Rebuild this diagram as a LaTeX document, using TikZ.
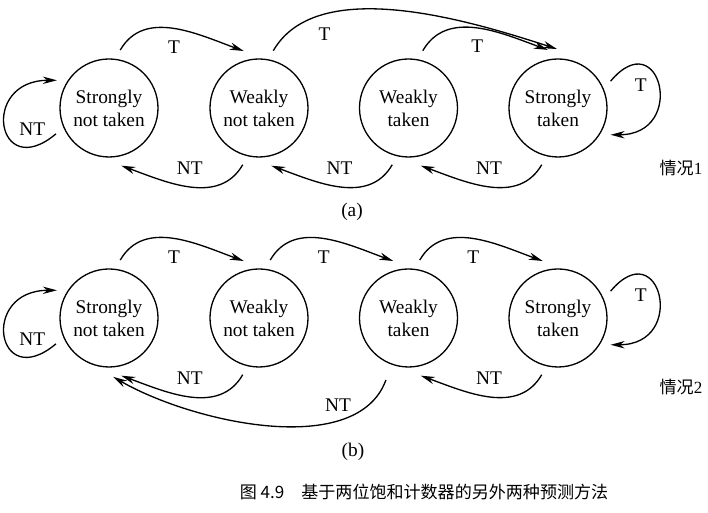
\documentclass[tikz,border=0pt]{standalone}
\usepackage{fontspec}
\setmainfont{Liberation Serif}
\newfontfamily\cjk{Noto Sans CJK SC}
\usetikzlibrary{arrows.meta}

\begin{document}
\begin{tikzpicture}[>={Stealth[length=8pt,width=4.2pt]}, line width=0.75pt,
  font=\fontsize{11}{13}\selectfont,
  cnt/.style={circle,draw,minimum size=1.96cm,inner sep=0pt,outer sep=0.2cm,align=center},
  zh/.style={font=\cjk\fontsize{9.7}{12}\selectfont}]
\useasboundingbox (0,0) rectangle (14.16,10.26);
% (a)
\node (SNa) [cnt] at (2.18,8.1) {Strongly\\not taken};
\node (WNa) [cnt] at (5.18,8.1) {Weakly\\not taken};
\node (WTa) [cnt] at (8.17,8.1) {Weakly\\taken};
\node (STa) [cnt] at (11.16,8.1) {Strongly\\taken};
\draw [->] (SNa.79) to [out=60,in=160] node[midway,below=3pt] {T} (WNa.105);
\draw [->] (WNa.76) to [out=60,in=162,looseness=0.8] node[pos=0.25,below=4pt] {T} (STa.91);
\draw [->] (WTa.76) to [out=60,in=160] node[midway,below=3pt] {T} (STa.100);
\draw [->] (STa.27) to [out=50,in=0,looseness=3.7] node[pos=0.38,below left] {T} (STa.-27);
\draw [->] (SNa.206) to [out=-140,in=180,looseness=3.7] node[pos=0.33,above right] {NT} (SNa.152);
\draw [->] (WNa.254) to [out=-120,in=-20] node[midway,above=3pt] {NT} (SNa.282);
\draw [->] (WTa.254) to [out=-120,in=-20] node[midway,above=3pt] {NT} (WNa.282);
\draw [->] (STa.254) to [out=-120,in=-20] node[midway,above=3pt] {NT} (WTa.282);
\node (Ka) [zh] at (13.62,6.9) {情况\rmfamily 1};
\node (a) at (7.04,6.02) {(a)};
% (b)
\node (SNb) [cnt] at (2.18,3.9) {Strongly\\not taken};
\node (WNb) [cnt] at (5.18,3.9) {Weakly\\not taken};
\node (WTb) [cnt] at (8.17,3.9) {Weakly\\taken};
\node (STb) [cnt] at (11.16,3.9) {Strongly\\taken};
\draw [->] (SNb.79) to [out=60,in=160] node[midway,below=3pt] {T} (WNb.105);
\draw [->] (WNb.79) to [out=60,in=160] node[midway,below=3pt] {T} (WTb.105);
\draw [->] (WTb.79) to [out=60,in=160] node[midway,below=3pt] {T} (STb.105);
\draw [->] (STb.27) to [out=50,in=0,looseness=3.7] node[pos=0.38,below left] {T} (STb.-27);
\draw [->] (SNb.206) to [out=-140,in=180,looseness=3.7] node[pos=0.33,above right] {NT} (SNb.152);
\draw [->] (WNb.254) to [out=-120,in=-20] node[midway,above=3pt] {NT} (SNb.282);
\draw [->,shorten <=0.14cm] (WTb.250) to [out=-110,in=-30,looseness=0.85] node[pos=0.27,above] {NT} (SNb.274);
\draw [->] (STb.254) to [out=-120,in=-20] node[midway,above=3pt] {NT} (WTb.282);
\node (Kb) [zh] at (13.62,2.52) {情况\rmfamily 2};
\node (b) at (7.06,1.22) {(b)};
% caption
\node (cap) [zh] at (8.48,0.42) {图 4.9\quad 基于两位饱和计数器的另外两种预测方法};
\end{tikzpicture}
\end{document}
